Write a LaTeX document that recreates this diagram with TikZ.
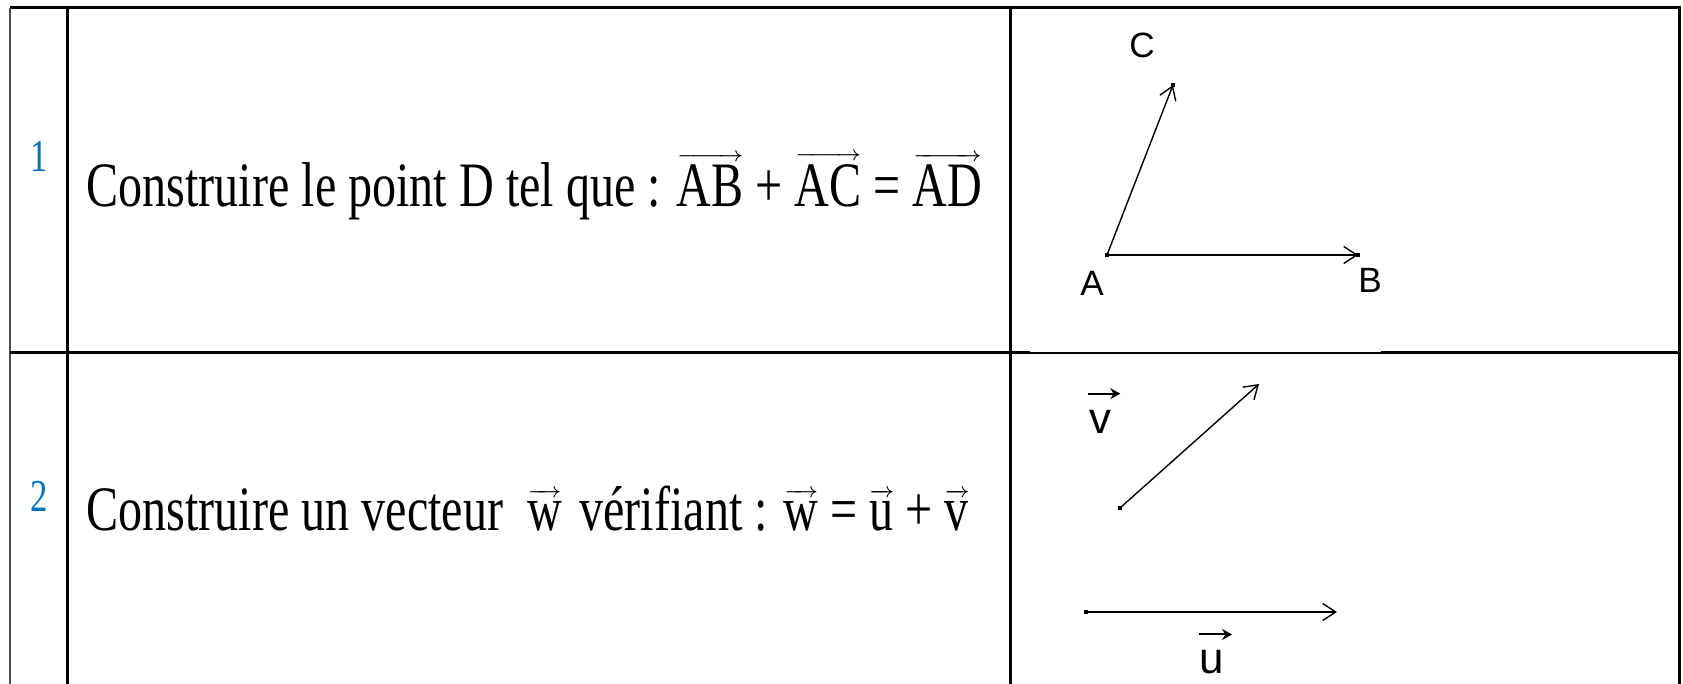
\documentclass[tikz,border=0pt]{standalone}
\usepackage{fontspec}
\setmainfont{Liberation Serif}[FakeStretch=0.76]
\newfontfamily\figfont{Liberation Sans}
\usetikzlibrary{arrows.meta,positioning}

\definecolor{numblue}{RGB}{0,112,192}

% thin arrow over a group of letters
\newcommand\arrowover[1]{\leavevmode\vbox{\offinterlineskip
  \setbox0\hbox{#1}%
  \hbox to\wd0{\fontsize{6}{6}\selectfont\rightarrowfill}%
  \kern1.2pt\box0}}

\begin{document}
\begin{tikzpicture}[x=0.1mm, y=-0.1mm,
    rule/.style={line width=0.3mm},
    thinrule/.style={line width=0.12mm},
    num/.style={text=numblue, font=\fontsize{13}{15}\selectfont, inner sep=0pt},
    task/.style={anchor=base west, font=\fontsize{18}{22}\selectfont, inner sep=0pt},
    pt/.style={fill, minimum size=0.45mm, inner sep=0pt},
    vec/.style={-{Straight Barb[length=1.3mm,width=1.7mm]}, line width=0.14mm},
    labelvec/.style={-{Stealth[length=1mm,width=1.1mm]}, line width=0.2mm},
    ptlabel/.style={font=\figfont\fontsize{10}{12}\selectfont, inner sep=0pt},
    veclabel/.style={font=\figfont\fontsize{12.5}{14}\selectfont, inner sep=0pt},
]
\useasboundingbox (0,0) rectangle (1683,684);

% table rules
\draw[rule] (10,8) -- (1679,8) -- (1679,684);
\draw[rule, black!70] (10,8) -- (10,684);
\draw[rule] (67,8) -- (67,684);
\draw[rule] (1010,8) -- (1010,684);
\draw[rule] (10,353) -- (1030,353);
\draw[thinrule] (1030,353) -- (1381,353);
\draw[rule] (1381,353) -- (1679,353);

% row 1
\node[num] (n1) at (39,156) {1};
\node[task] (t1) at (86,207) {Construire le point D tel que : \arrowover{AB} + \arrowover{AC} = \arrowover{AD}};

\coordinate (A) at (1107,255);
\coordinate (B) at (1358,255);
\coordinate (C) at (1173,85);
\draw[vec] (A) -- (B);
\draw[vec] (A) -- (C);
\node[pt] (pA) at (A) {};
\node[pt] (pB) at (B) {};
\node[pt] (pC) at (C) {};
\node[ptlabel] (lA) at (1092,283) {A};
\node[ptlabel] (lB) at (1370,280) {B};
\node[ptlabel] (lC) at (1142,45) {C};

% row 2
\node[num] (n2) at (39,496) {2};
\node[task] (t2) at (86,531) {Construire un vecteur\ \ \arrowover{w}\hspace{5pt}vérifiant : \arrowover{w} = \arrowover{u} + \arrowover{v}};

\coordinate (v0) at (1120,508);
\coordinate (v1) at (1259,384);
\coordinate (u0) at (1086,612);
\coordinate (u1) at (1337,612);
\draw[vec] (v0) -- (v1);
\draw[vec] (u0) -- (u1);
\node[pt] (pv) at (v0) {};
\node[pt] (pu) at (u0) {};
\node[veclabel] (lv) at (1100,422) {v};
\node[veclabel] (lu) at (1212,662) {u};
\draw[labelvec] ([yshift=1.6mm]lv.north west) -- ++(32,0);
\draw[labelvec] ([yshift=1.5mm]lu.north west) -- ++(33,0);
\end{tikzpicture}
\end{document}
